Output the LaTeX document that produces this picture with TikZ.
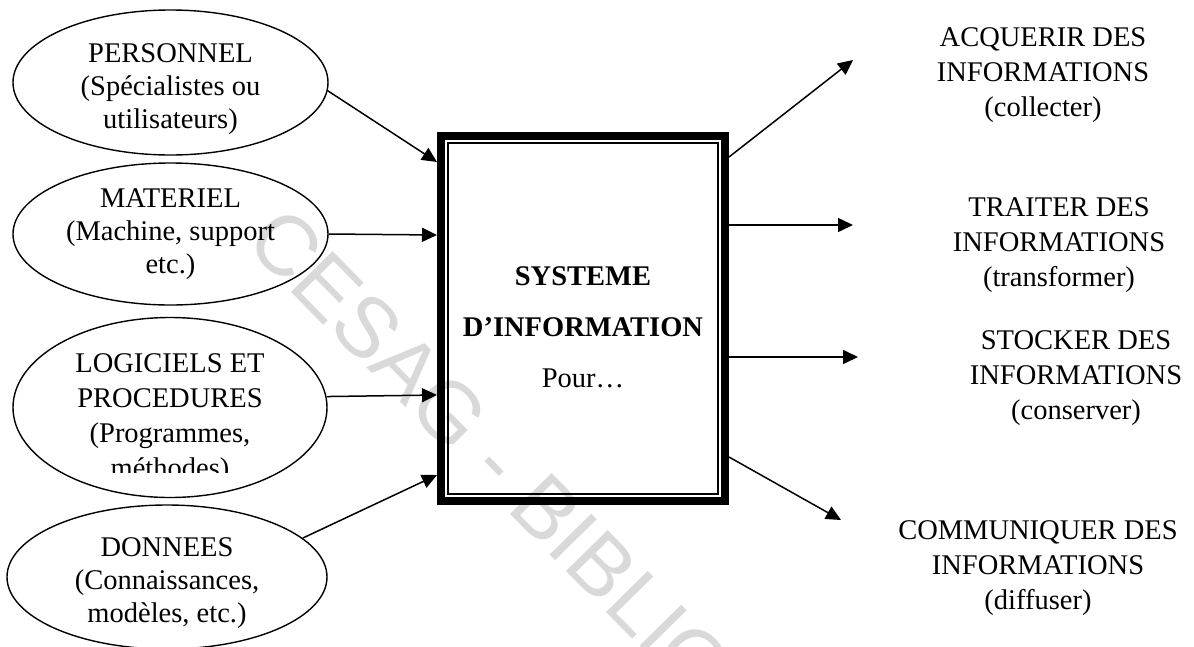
\documentclass[tikz,border=0pt]{standalone}
\usepackage{fontspec}
\setmainfont{Liberation Serif}
\newfontfamily\wmfont{Liberation Sans}
\usetikzlibrary{arrows.meta,shapes.geometric}
\begin{document}
\begin{tikzpicture}[x=1pt,y=-1pt,
  ell/.style={draw,ellipse,line width=1.4pt,inner sep=0pt},
  lbl/.style={align=center,font=\fontsize{28.5}{33}\selectfont,inner sep=0pt},
  lbl4/.style={align=center,font=\fontsize{28.5}{35}\selectfont,inner sep=0pt},
  rlbl/.style={align=center,font=\fontsize{28.5}{35}\selectfont,inner sep=0pt},
  conn/.style={line width=1.5pt,-{Triangle[length=15pt,width=14pt]}},
  wm/.style={font=\wmfont\fontsize{85}{85}\selectfont,text=black!15,inner sep=0pt,anchor=base west,rotate=-45.5}
  ]
\useasboundingbox (0,0) rectangle (1194,646);
\clip (0,0) rectangle (1194,646);

% watermark
\node[wm] (wmark) at (243.6,243.1) {CESAG - BIBLIOTHEQUE};

% ellipses
\node[ell,minimum width=315pt,minimum height=145pt] (pers) at (170.5,82.5) {};
\node[ell,minimum width=315pt,minimum height=142pt] (mat) at (170.5,234) {};
\node[ell,minimum width=314pt,minimum height=180pt] (log) at (170,407.5) {};
\node[ell,minimum width=320pt,minimum height=144pt] (don) at (167,577) {};

\node[lbl] (perst) at (170.5,89) {PERSONNEL\\(Spécialistes ou\\utilisateurs)};
\node[lbl] (matt) at (170.5,234) {MATERIEL\\(Machine, support\\etc.)};
\begin{scope}
\clip (0,300) rectangle (340,472);
\node[lbl4] (logt) at (170,418.5) {LOGICIELS ET\\PROCEDURES\\(Programmes,\\méthodes)};
\end{scope}
\node[lbl] (dont) at (167,583) {DONNEES\\(Connaissances,\\modèles, etc.)};

% central box
\node[draw,line width=8pt,minimum width=284pt,minimum height=365pt,inner sep=0pt] (box) at (583,318.5) {};
\draw[line width=1.5pt] (448,143) rectangle (718,494);
\node[align=center,font=\fontsize{28.5}{51}\selectfont,inner sep=0pt] (title) at (583,327)
  {\textbf{SYSTEME}\\\textbf{D’INFORMATION}\\Pour…};

% input coordinates on box
\coordinate (i1) at (437,162);
\coordinate (i2) at (437,235);
\coordinate (i3) at (437,395);
\coordinate (i4) at (437,475);
\draw[conn] (pers.-3) -- (i1);
\draw[conn] (mat.east) -- (i2);
\draw[conn] (log.4) -- (i3);
\draw[conn] (don.16) -- (i4);

% outputs
\coordinate (o1) at (729,157);
\coordinate (o2) at (729,225);
\coordinate (o3) at (729,357);
\coordinate (o4) at (729,457);
\coordinate (e1) at (853,60);
\coordinate (e2) at (853,225);
\coordinate (e3) at (858,357);
\coordinate (e4) at (841,520);
\draw[conn] (o1) -- (e1);
\draw[conn] (o2) -- (e2);
\draw[conn] (o3) -- (e3);
\draw[conn] (o4) -- (e4);

\node[rlbl] (r1) at (1043,75) {ACQUERIR DES\\INFORMATIONS\\(collecter)};
\node[rlbl] (r2) at (1059,245) {TRAITER DES\\INFORMATIONS\\(transformer)};
\node[rlbl] (r3) at (1076,378) {STOCKER DES\\INFORMATIONS\\(conserver)};
\node[rlbl] (r4) at (1038,568) {COMMUNIQUER DES\\INFORMATIONS\\(diffuser)};
\end{tikzpicture}
\end{document}
